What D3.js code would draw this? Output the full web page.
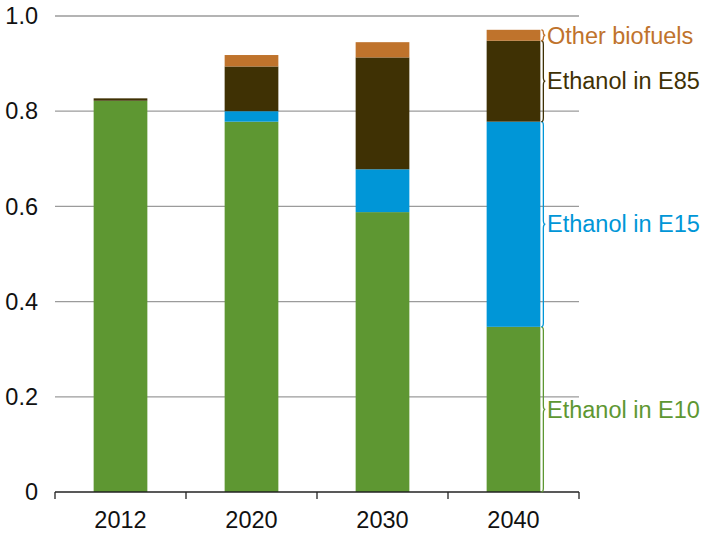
<!DOCTYPE html>
<html>
<head>
<meta charset="utf-8">
<script src="https://cdn.jsdelivr.net/npm/d3@7"></script>
<style>
  html, body { margin: 0; padding: 0; background: #fff; }
  svg { display: block; font-family: "Liberation Sans", Arial, sans-serif; }
</style>
</head>
<body>
<svg id="chart" width="704" height="533"></svg>
<script>
// ---- data ----
const years = ["2012", "2020", "2030", "2040"];
const seriesNames = ["Ethanol in E10", "Ethanol in E15", "Ethanol in E85", "Other biofuels"];
const e10 = [0.822, 0.778, 0.588, 0.347];
const e15 = [0.000, 0.022, 0.090, 0.431];
const e85 = [0.005, 0.094, 0.235, 0.170];
const other = [0.000, 0.024, 0.032, 0.023];
const yTicks = [0, 0.2, 0.4, 0.6, 0.8, 1.0];
const colors = ["#5E9732", "#0096D7", "#3F3104", "#BF732C"];

// ---- layout ----
const svg = d3.select("#chart");
const margin = { left: 55, right: 125, top: 16, bottom: 41 };
const W = 704, H = 533;
const x = d3.scaleBand().domain(years).range([margin.left, W - margin.right]).paddingInner(0.59).paddingOuter(0.295);
const y = d3.scaleLinear().domain([0, 1]).range([H - margin.bottom, margin.top]);

const rows = years.map((yr, i) => ({ year: yr, "Ethanol in E10": e10[i], "Ethanol in E15": e15[i], "Ethanol in E85": e85[i], "Other biofuels": other[i] }));
const stacked = d3.stack().keys(seriesNames)(rows);

// gridlines
svg.append("g").selectAll("line").data(yTicks.filter(d => d > 0)).join("line")
  .attr("x1", margin.left).attr("x2", W - margin.right)
  .attr("y1", d => y(d)).attr("y2", d => y(d))
  .attr("stroke", "#9b9b9b").attr("stroke-width", 1.3);

// y labels
svg.append("g").selectAll("text").data(yTicks).join("text")
  .attr("x", 38).attr("y", d => y(d)).attr("dy", "0.35em")
  .attr("text-anchor", "end").attr("font-size", 23.5).attr("fill", "#111")
  .text(d => d === 0 ? "0" : d.toFixed(1));

// bars
svg.append("g").selectAll("g").data(stacked).join("g")
  .attr("fill", (d, i) => colors[i])
  .selectAll("rect").data(d => d).join("rect")
  .attr("x", d => x(d.data.year))
  .attr("width", x.bandwidth())
  .attr("y", d => y(d[1]))
  .attr("height", d => Math.max(0, y(d[0]) - y(d[1])));

// x axis
const xAxisY = y(0);
const edges = years.map(yr => x(yr) - (x.step() - x.bandwidth()) / 2);
edges.push(W - margin.right);
svg.append("line").attr("x1", margin.left).attr("x2", W - margin.right)
  .attr("y1", xAxisY).attr("y2", xAxisY).attr("stroke", "#222").attr("stroke-width", 1.3);
svg.append("g").selectAll("line").data(edges).join("line")
  .attr("x1", d => d).attr("x2", d => d).attr("y1", xAxisY).attr("y2", xAxisY + 7)
  .attr("stroke", "#222").attr("stroke-width", 1.3);
svg.append("g").selectAll("text").data(years).join("text")
  .attr("x", d => x(d) + x.bandwidth() / 2).attr("y", 528)
  .attr("text-anchor", "middle").attr("font-size", 23.5).attr("fill", "#111")
  .text(d => d);

// braces + labels for last bar
const last = years.length - 1;
const bx = x(years[last]) + x.bandwidth() + 1;
stacked.forEach((s, i) => {
  const top = y(s[last][1]), bot = y(s[last][0]);
  const mid = (top + bot) / 2;
  const k = Math.min(4, (bot - top) / 4);
  const p = d3.path();
  p.moveTo(bx, top);
  p.quadraticCurveTo(bx + 2, top, bx + 2, top + k);
  p.lineTo(bx + 2, mid - k);
  p.quadraticCurveTo(bx + 2, mid, bx + 4, mid);
  p.quadraticCurveTo(bx + 2, mid, bx + 2, mid + k);
  p.lineTo(bx + 2, bot - k);
  p.quadraticCurveTo(bx + 2, bot, bx, bot);
  svg.append("path").attr("d", p.toString()).attr("fill", "none")
    .attr("stroke", colors[i]).attr("stroke-width", 1.3);
  svg.append("text").attr("x", 547).attr("y", mid).attr("dy", "0.35em")
    .attr("font-size", 23.5).attr("fill", colors[i]).text(s.key);
});
</script>
</body>
</html>
